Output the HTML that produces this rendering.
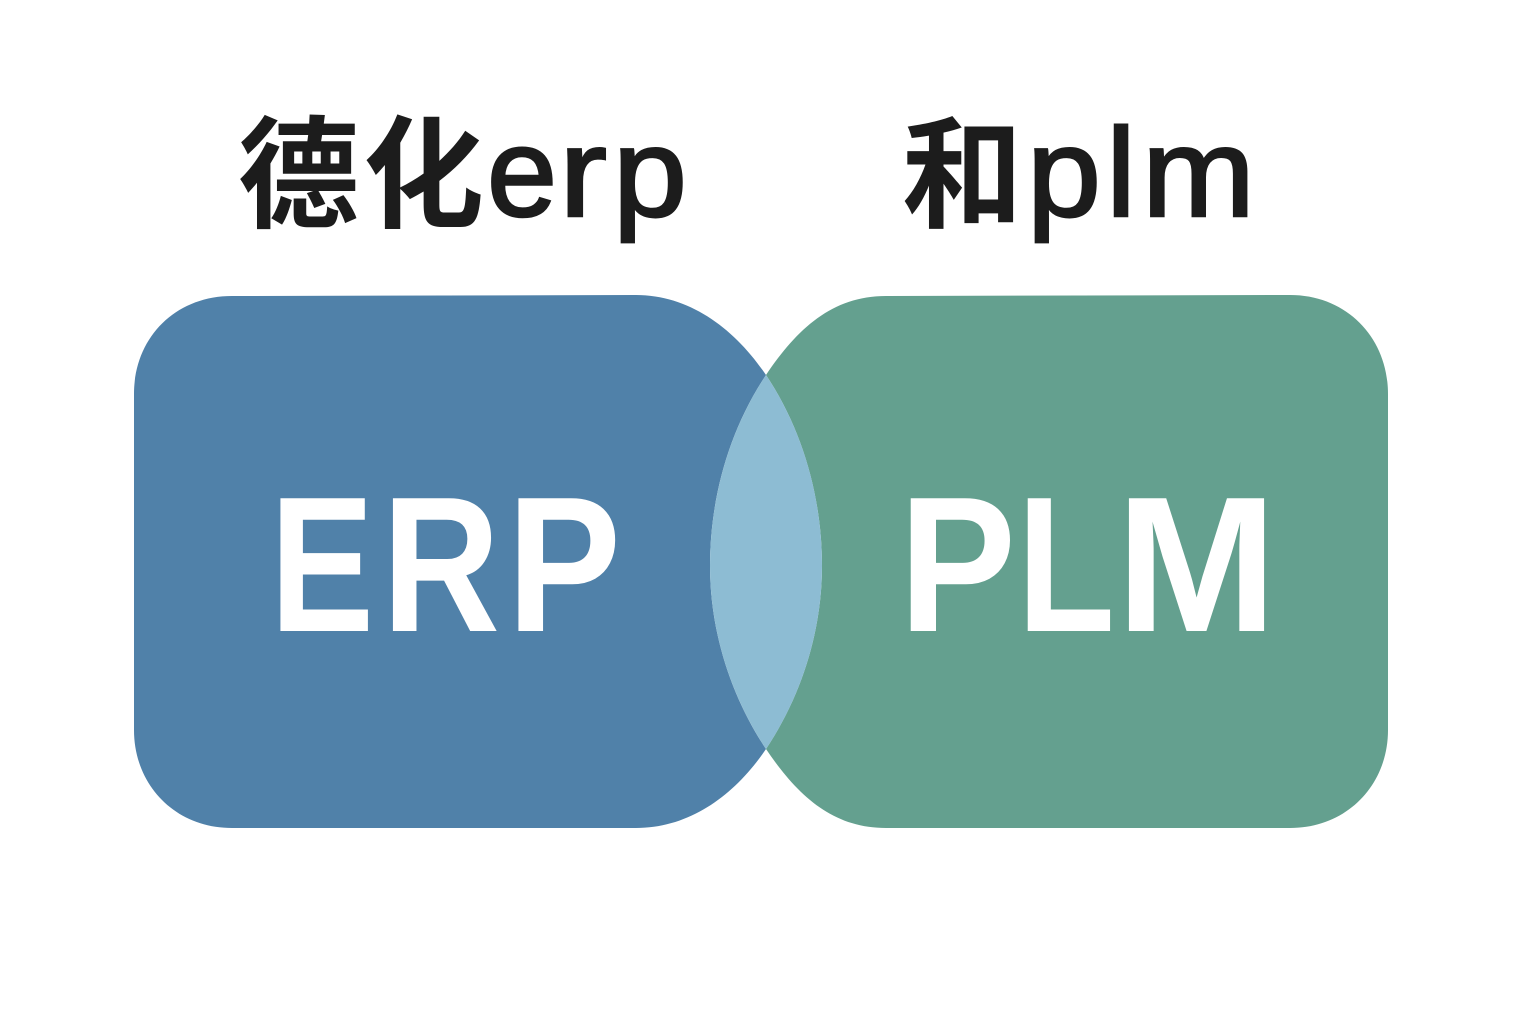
<!DOCTYPE html>
<html>
<head>
<meta charset="utf-8">
<style>
html,body{margin:0;padding:0;background:#fff;width:1536px;height:1024px;overflow:hidden}
svg{display:block}
.cjk{font-family:"Noto Sans CJK SC","Liberation Sans",sans-serif;font-weight:700;font-size:121px;fill:#1c1c1c}
.lat{font-family:"Liberation Sans",sans-serif;font-weight:400;font-size:126px;fill:#1c1c1c;stroke:#1c1c1c;stroke-width:2.5px}
.big{font-family:"Liberation Sans",sans-serif;font-weight:700;font-size:193px;fill:#ffffff}
</style>
</head>
<body>
<svg width="1536" height="1024" viewBox="0 0 1536 1024" xmlns="http://www.w3.org/2000/svg">
<rect width="1536" height="1024" fill="#ffffff"/>

<text class="cjk" x="238" y="218">德</text>
<text class="cjk" x="363" y="218">化</text>
<text class="lat" x="487" y="216" textLength="70" lengthAdjust="spacingAndGlyphs">e</text>
<text class="lat" x="559" y="216" textLength="48" lengthAdjust="spacingAndGlyphs">r</text>
<text class="lat" x="613" y="216" textLength="74" lengthAdjust="spacingAndGlyphs">p</text>

<text class="cjk" x="902" y="218">和</text>
<text class="lat" x="1027" y="216" textLength="74" lengthAdjust="spacingAndGlyphs">p</text>
<text class="lat" x="1106" y="216" textLength="30" lengthAdjust="spacingAndGlyphs">l</text>
<text class="lat" x="1142" y="216" textLength="113" lengthAdjust="spacingAndGlyphs">m</text>

<path d="M232 296 L636 295 C690 295 735 329 766 375 C728 432 710 500 710 566 C710 630 730 695 766 749 C735 795 690 828 636 828 L232 828 C175 828 134 785 134 730 L134 394 C134 338 175 296 232 296 Z" fill="#5081a9"/>
<path d="M886 296 L1290 295 C1347 295 1388 338 1388 394 L1388 730 C1388 785 1347 828 1290 828 L886 828 C832 828 797 795 766 749 C802 695 822 630 822 566 C822 500 804 432 766 375 C797 329 832 296 886 296 Z" fill="#64a08f"/>
<path d="M766 375 C728 432 710 500 710 566 C710 630 730 695 766 749 C802 695 822 630 822 566 C822 500 804 432 766 375 Z" fill="#8dbcd3"/>

<text class="big" x="270" y="631" textLength="104" lengthAdjust="spacingAndGlyphs">E</text>
<text class="big" x="382" y="631" textLength="118" lengthAdjust="spacingAndGlyphs">R</text>
<text class="big" x="507" y="631" textLength="114" lengthAdjust="spacingAndGlyphs">P</text>

<text class="big" x="899" y="631" textLength="117" lengthAdjust="spacingAndGlyphs">P</text>
<text class="big" x="1017" y="631" textLength="98" lengthAdjust="spacingAndGlyphs">L</text>
<text class="big" x="1116" y="631" textLength="161" lengthAdjust="spacingAndGlyphs">M</text>
</svg>
</body>
</html>
